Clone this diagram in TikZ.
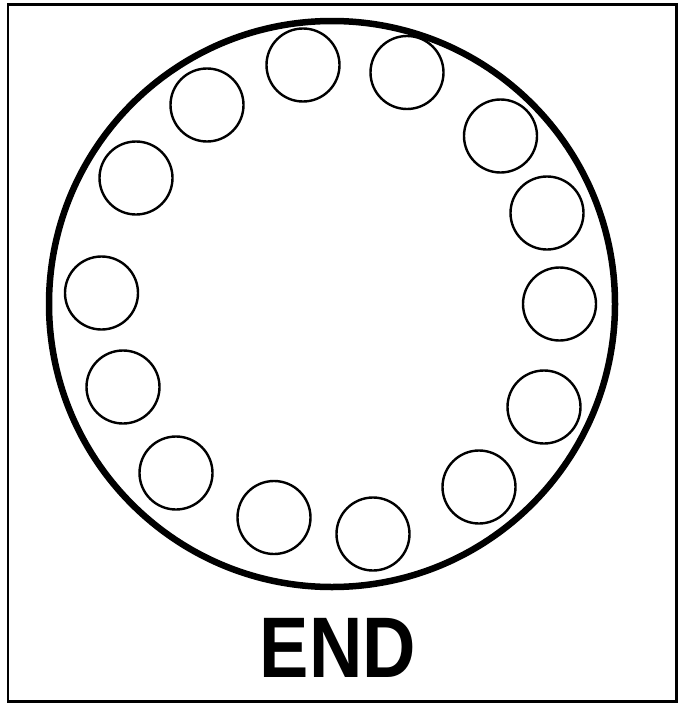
\documentclass[tikz,border=0pt]{standalone}
\usepackage{fontspec}
\setmainfont{Liberation Sans}
\usetikzlibrary{positioning}

\begin{document}
\begin{tikzpicture}[
  x=1pt,y=-1pt,
  frame/.style={draw=black,line width=2.4pt},
  dial/.style={circle,draw=black,line width=6.5pt,minimum size=566pt,inner sep=0pt},
  hole/.style={circle,draw=black,line width=2.4pt,minimum size=73pt,inner sep=0pt},
  caption/.style={font=\fontsize{86}{86}\selectfont\bfseries,inner sep=0pt,xscale=0.86}
]
\useasboundingbox (0,0) rectangle (682,704);
\draw[frame] (8,4.5) rectangle (676.5,701.5);
\node[dial] (ring) at (332,304) {};
% finger holes, clockwise from the top
\foreach \n/\px/\py in {1/303/65, 2/407/72.5, 3/500.5/136, 4/547/213, 5/559.5/304,
    6/544/407, 7/479/487, 8/373/534, 9/274/517.5, 10/176/473, 11/123/387,
    12/101.5/293, 13/136/178, 14/207/105}
  \node[hole] (hole\n) at (\px,\py) {};
\node[caption] (endlabel) at (338,647.5) {END};
\end{tikzpicture}
\end{document}
